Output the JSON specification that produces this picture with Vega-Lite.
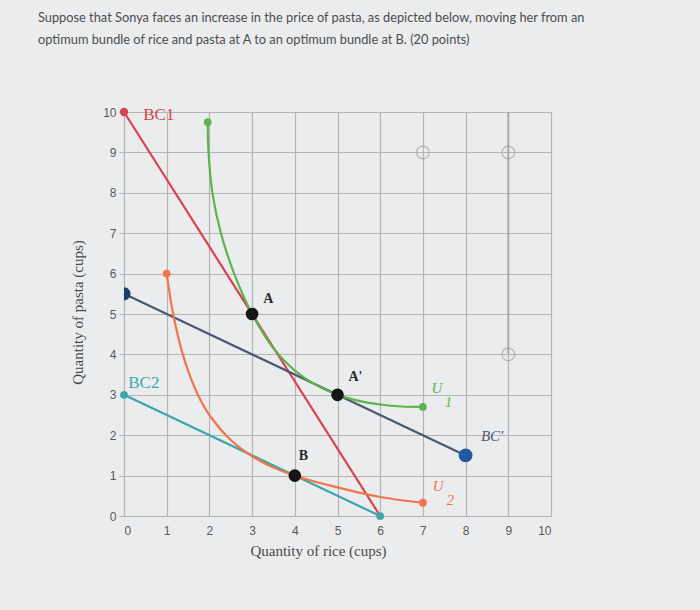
{
  "$schema": "https://vega.github.io/schema/vega-lite/v6.json",
  "width": 427,
  "height": 404,
  "autosize": {"type": "none"},
  "padding": {"left": 124, "top": 112, "right": 149, "bottom": 94},
  "background": "#ebeced",
  "title": {
    "text": ["Suppose that Sonya faces an increase in the price of pasta, as depicted below, moving her from an", "optimum bundle of rice and pasta at A to an optimum bundle at B. (20 points)"],
    "anchor": "start",
    "frame": "group",
    "dx": -86,
    "offset": 59,
    "font": "Lato",
    "fontSize": 12.8,
    "fontWeight": "normal",
    "color": "#4d4d4d",
    "lineHeight": 22
  },
  "datasets": {
    "curves": [
      {"series": "BC1", "x": 0, "y": 10},
      {"series": "BC1", "x": 6, "y": 0},
      {"series": "BC2", "x": 0, "y": 3},
      {"series": "BC2", "x": 6, "y": 0},
      {"series": "BCp", "x": 0, "y": 5.5},
      {"series": "BCp", "x": 8, "y": 1.5},
      {"series": "U1", "x": 1.96, "y": 9.75},
      {"series": "U1", "x": 1.98, "y": 9.0},
      {"series": "U1", "x": 2.07, "y": 8.0},
      {"series": "U1", "x": 2.27, "y": 7.0},
      {"series": "U1", "x": 2.58, "y": 6.0},
      {"series": "U1", "x": 3.0, "y": 5.0},
      {"series": "U1", "x": 3.5, "y": 4.15},
      {"series": "U1", "x": 4.0, "y": 3.6},
      {"series": "U1", "x": 4.5, "y": 3.24},
      {"series": "U1", "x": 5.0, "y": 3.0},
      {"series": "U1", "x": 5.5, "y": 2.85},
      {"series": "U1", "x": 6.0, "y": 2.76},
      {"series": "U1", "x": 6.5, "y": 2.71},
      {"series": "U1", "x": 7.0, "y": 2.7},
      {"series": "U2", "x": 1.0, "y": 6.0},
      {"series": "U2", "x": 1.1, "y": 5.3},
      {"series": "U2", "x": 1.2, "y": 4.75},
      {"series": "U2", "x": 1.35, "y": 4.1},
      {"series": "U2", "x": 1.5, "y": 3.6},
      {"series": "U2", "x": 1.75, "y": 2.96},
      {"series": "U2", "x": 2.0, "y": 2.5},
      {"series": "U2", "x": 2.5, "y": 1.88},
      {"series": "U2", "x": 3.0, "y": 1.48},
      {"series": "U2", "x": 3.5, "y": 1.2},
      {"series": "U2", "x": 4.0, "y": 1.0},
      {"series": "U2", "x": 4.5, "y": 0.84},
      {"series": "U2", "x": 5.0, "y": 0.71},
      {"series": "U2", "x": 5.5, "y": 0.58},
      {"series": "U2", "x": 6.0, "y": 0.47},
      {"series": "U2", "x": 6.5, "y": 0.39},
      {"series": "U2", "x": 7.0, "y": 0.33}
    ],
    "ends": [
      {"series": "BC1", "x": 0, "y": 10, "s": 70},
      {"series": "U1", "x": 1.96, "y": 9.75, "s": 60},
      {"series": "U1", "x": 7, "y": 2.7, "s": 60},
      {"series": "U2", "x": 1, "y": 6, "s": 60},
      {"series": "U2", "x": 7, "y": 0.33, "s": 60},
      {"series": "BC2", "x": 0, "y": 3, "s": 60},
      {"series": "BC2", "x": 6, "y": 0, "s": 60},
      {"series": "BCend", "x": 8, "y": 1.5, "s": 190}
    ],
    "optima": [
      {"name": "A", "x": 3, "y": 5},
      {"name": "A'", "x": 5, "y": 3},
      {"name": "B", "x": 4, "y": 1}
    ],
    "handles": [
      {"x": 7, "y": 9},
      {"x": 9, "y": 9},
      {"x": 9, "y": 4}
    ],
    "labels": [
      {"text": "BC1", "x": 0.45, "y": 9.92, "series": "BC1", "kind": "plain"},
      {"text": "BC2", "x": 0.1, "y": 3.3, "series": "BC2", "kind": "plain"},
      {"text": "A", "x": 3.38, "y": 5.36, "series": "pt", "kind": "bold"},
      {"text": "A'", "x": 5.42, "y": 3.43, "series": "pt", "kind": "bold"},
      {"text": "B", "x": 4.2, "y": 1.48, "series": "pt", "kind": "bold"},
      {"text": "U", "x": 7.33, "y": 3.16, "series": "U1", "kind": "italic"},
      {"text": "1", "x": 7.6, "y": 2.81, "series": "U1", "kind": "italic"},
      {"text": "U", "x": 7.36, "y": 0.74, "series": "U2", "kind": "italic"},
      {"text": "2", "x": 7.64, "y": 0.4, "series": "U2", "kind": "italic"},
      {"text": "BC'", "x": 8.62, "y": 1.98, "series": "BCp", "kind": "italic"}
    ]
  },
  "layer": [
    {
      "data": {"values": [{"x": 9, "y": 4, "y2": 10}]},
      "mark": {"type": "rule", "color": "#a8a8a8", "strokeWidth": 1.8},
      "encoding": {
        "x": {"field": "x", "type": "quantitative"},
        "y": {"field": "y", "type": "quantitative"},
        "y2": {"field": "y2"}
      }
    },
    {
      "data": {"name": "handles"},
      "mark": {"type": "point", "shape": "circle", "filled": false, "color": "#a0a0a0", "strokeWidth": 1.3, "size": 160},
      "encoding": {
        "x": {"field": "x", "type": "quantitative"},
        "y": {"field": "y", "type": "quantitative"}
      }
    },
    {
      "data": {"name": "curves"},
      "mark": {"type": "line", "interpolate": "catmull-rom", "strokeWidth": 2.2},
      "encoding": {
        "x": {"field": "x", "type": "quantitative"},
        "y": {"field": "y", "type": "quantitative"},
        "detail": {"field": "series"},
        "color": {"field": "series", "type": "nominal", "scale": {"domain": ["BC1", "BC2", "BCp", "U1", "U2", "BCend", "pt", "BCstart"], "range": ["#d8434f", "#3ba7ad", "#4b5873", "#5db44f", "#f0754a", "#1f5a9e", "#2a2a2a", "#1d3f6b"]}, "legend": null}
      }
    },
    {
      "data": {"values": [{"series": "BCstart", "x": 0, "y": 5.5}]},
      "mark": {"type": "point", "shape": "M0,-1 A1,1 0 0,1 0,1 Z", "filled": true, "opacity": 1, "size": 170},
      "encoding": {
        "x": {"field": "x", "type": "quantitative"},
        "y": {"field": "y", "type": "quantitative"},
        "color": {"field": "series", "type": "nominal", "legend": null}
      }
    },
    {
      "data": {"name": "ends"},
      "mark": {"type": "point", "shape": "circle", "filled": true, "opacity": 1},
      "encoding": {
        "x": {"field": "x", "type": "quantitative"},
        "y": {"field": "y", "type": "quantitative"},
        "size": {"field": "s", "type": "quantitative", "scale": null, "legend": null},
        "color": {"field": "series", "type": "nominal", "legend": null}
      }
    },
    {
      "data": {"name": "optima"},
      "mark": {"type": "point", "shape": "circle", "filled": true, "opacity": 1, "size": 160, "color": "#151515"},
      "encoding": {
        "x": {"field": "x", "type": "quantitative"},
        "y": {"field": "y", "type": "quantitative"}
      }
    },
    {
      "data": {"name": "labels"},
      "transform": [{"filter": "datum.kind == 'plain'"}],
      "mark": {"type": "text", "font": "Liberation Serif", "fontSize": 17, "align": "left", "baseline": "middle"},
      "encoding": {
        "x": {"field": "x", "type": "quantitative"},
        "y": {"field": "y", "type": "quantitative"},
        "text": {"field": "text"},
        "color": {"field": "series", "type": "nominal", "legend": null}
      }
    },
    {
      "data": {"name": "labels"},
      "transform": [{"filter": "datum.kind == 'bold'"}],
      "mark": {"type": "text", "font": "Liberation Serif", "fontSize": 14, "fontWeight": "bold", "align": "center", "baseline": "middle"},
      "encoding": {
        "x": {"field": "x", "type": "quantitative"},
        "y": {"field": "y", "type": "quantitative"},
        "text": {"field": "text"},
        "color": {"field": "series", "type": "nominal", "legend": null}
      }
    },
    {
      "data": {"name": "labels"},
      "transform": [{"filter": "datum.kind == 'italic'"}],
      "mark": {"type": "text", "font": "Liberation Serif", "fontSize": 15, "fontStyle": "italic", "align": "center", "baseline": "middle"},
      "encoding": {
        "x": {"field": "x", "type": "quantitative", "scale": {"domain": [0, 10], "nice": false}, "axis": {"title": "Quantity of rice (cups)", "values": [0, 1, 2, 3, 4, 5, 6, 7, 8, 9, 10], "ticks": false, "labelPadding": 9, "titleX": 194, "titleY": 34, "titleBaseline": "middle"}},
        "y": {"field": "y", "type": "quantitative", "scale": {"domain": [0, 10], "nice": false}, "axis": {"title": "Quantity of pasta (cups)", "values": [0, 1, 2, 3, 4, 5, 6, 7, 8, 9, 10], "tickSize": 5, "labelPadding": 3, "titleX": -47, "titleY": 200, "titleAlign": "center", "titleBaseline": "middle", "titleAngle": -90}},
        "text": {"field": "text"},
        "color": {"field": "series", "type": "nominal", "legend": null}
      }
    }
  ],
  "config": {
    "view": {"stroke": null},
    "axis": {
      "grid": true,
      "gridColor": "#b4b4b4",
      "gridWidth": 1.2,
      "gridOpacity": 1,
      "domain": false,
      "tickColor": "#b4b4b4",
      "labelFont": "Liberation Sans",
      "labelFontSize": 12,
      "labelColor": "#5a5a5a",
      "titleFont": "Liberation Serif",
      "titleFontSize": 15,
      "titleFontWeight": "normal",
      "titleColor": "#4a4a4a"
    }
  }
}
